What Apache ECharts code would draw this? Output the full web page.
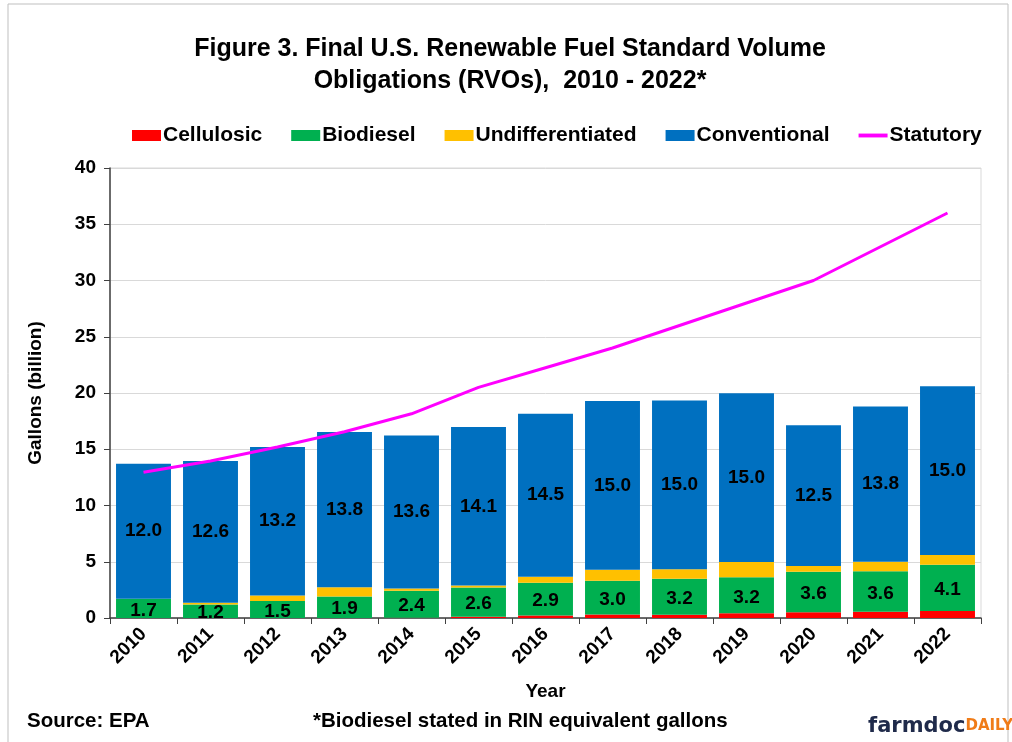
<!DOCTYPE html>
<html><head><meta charset="utf-8">
<script src="https://cdn.jsdelivr.net/npm/echarts@6/dist/echarts.min.js"></script>
<style>html,body{margin:0;padding:0;background:#fff}#c{width:1012px;height:742px}</style>
</head><body><div id="c"></div>
<script>
const years = ['2010','2011','2012','2013','2014','2015','2016','2017','2018','2019','2020','2021','2022'];
const cellulosic = [0.01,0.01,0.01,0.01,0.03,0.12,0.23,0.31,0.29,0.42,0.51,0.56,0.63];
const biodiesel = [1.7,1.2,1.5,1.9,2.4,2.6,2.9,3.0,3.2,3.2,3.6,3.6,4.1];
const undifferentiated = [0.0,0.14,0.49,0.82,0.19,0.16,0.53,0.97,0.85,1.35,0.52,0.84,0.86];
const conventional = [12.0,12.6,13.2,13.8,13.6,14.1,14.5,15.0,15.0,15.0,12.5,13.8,15.0];
const statutory = [12.95,13.95,15.2,16.55,18.15,20.5,22.25,24.0,26.0,28.0,30.0,33.0,36.0];
const yTicks = [0,5,10,15,20,25,30,35,40];

const FF = '"Liberation Sans", Arial, sans-serif';
const chart = echarts.init(document.getElementById('c'), null, {renderer:'canvas'});
const lbl = {show:true, position:'inside', color:'#000', fontFamily:FF, fontWeight:'bold', fontSize:19, formatter:p=>p.value.toFixed(1)};
chart.setOption({
  animation:false,
  textStyle:{fontFamily:FF},
  title:{text:'Figure 3. Final U.S. Renewable Fuel Standard Volume\nObligations (RVOs),  2010 - 2022*', left:505, top:28, textAlign:'center',
    textStyle:{fontFamily:FF, fontWeight:'bold', fontSize:25, lineHeight:32, color:'#000'}},
  legend:{top:120, left:127, itemWidth:29, itemHeight:11, itemGap:29, symbolKeepAspect:true,
    textStyle:{fontFamily:FF, fontWeight:'bold', fontSize:21, color:'#000', padding:[0,0,0,-3]},
    data:[{name:'Cellulosic',icon:'rect'},{name:'Biodiesel',icon:'rect'},{name:'Undifferentiated',icon:'rect'},{name:'Conventional',icon:'rect'},
      {name:'Statutory', icon:'path://M0,0 H30 V4 H0 Z', itemStyle:{color:'#FF00FF', borderWidth:0}, lineStyle:{width:0}}]},
  grid:{left:110, right:31, top:168, bottom:124, show:true, borderColor:'#d9d9d9', borderWidth:1},
  xAxis:{type:'category', data:years, name:'Year', nameLocation:'middle', nameGap:64,
    nameTextStyle:{fontFamily:FF, fontWeight:'bold', fontSize:19, color:'#000'},
    axisLine:{lineStyle:{color:'#404040', width:1.5}}, axisTick:{show:true, length:6, lineStyle:{color:'#404040'}},
    axisLabel:{rotate:45, fontFamily:FF, fontWeight:'bold', fontSize:19, color:'#000', margin:13}},
  yAxis:{type:'value', min:0, max:40, interval:5, name:'Gallons (billion)', nameLocation:'middle', nameGap:65,
    nameTextStyle:{fontFamily:FF, fontWeight:'bold', fontSize:19, color:'#000'},
    axisLine:{show:true, lineStyle:{color:'#404040', width:1.5}}, axisTick:{show:true, length:6, inside:false, lineStyle:{color:'#404040'}},
    splitLine:{lineStyle:{color:'#d9d9d9'}},
    axisLabel:{fontFamily:FF, fontWeight:'bold', fontSize:19, color:'#000', margin:14, formatter:v=>yTicks.includes(v)?String(v):''}},
  series:[
    {name:'Cellulosic', type:'bar', stack:'t', data:cellulosic, itemStyle:{color:'#FF0000'}, barCategoryGap:'18%'},
    {name:'Biodiesel', type:'bar', stack:'t', data:biodiesel, itemStyle:{color:'#00B050'}, label:Object.assign({}, lbl, {offset:[0,2]})},
    {name:'Undifferentiated', type:'bar', stack:'t', data:undifferentiated, itemStyle:{color:'#FFC000'}},
    {name:'Conventional', type:'bar', stack:'t', data:conventional, itemStyle:{color:'#0070C0'}, label:lbl},
    {name:'Statutory', type:'line', data:statutory, symbol:'none', lineStyle:{color:'#FF00FF', width:3}, itemStyle:{color:'#FF00FF'}, z:5}
  ],
  graphic:[
    {type:'rect', shape:{x:8, y:4, width:1000, height:742}, style:{fill:'none', stroke:'#bfbfbf', lineWidth:1}, silent:true},
    {type:'text', left:27, top:711, style:{text:'Source: EPA', fontFamily:FF, fontWeight:'bold', fontSize:20.5, fill:'#000'}},
    {type:'text', left:313, top:711, style:{text:'*Biodiesel stated in RIN equivalent gallons', fontFamily:FF, fontWeight:'bold', fontSize:20.5, fill:'#000'}},
    {type:'text', left:868, top:716, style:{rich:{a:{fontFamily:'"DejaVu Sans", sans-serif', fontWeight:'bold', fontSize:21, fill:'#1f2a4a', textFill:'#1f2a4a'}, b:{fontFamily:'"DejaVu Sans", sans-serif', fontWeight:'bold', fontSize:15, textFill:'#f07c18', fill:'#f07c18'}}, text:'{a|farmdoc}{b|DAILY}'}}
  ]
});
</script></body></html>
